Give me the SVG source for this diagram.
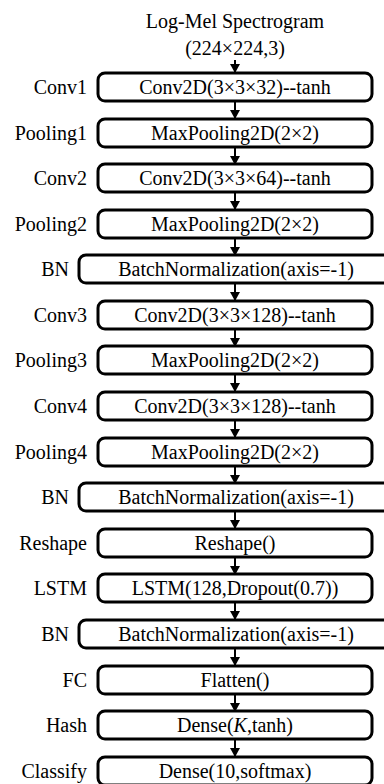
<svg xmlns="http://www.w3.org/2000/svg" width="384" height="784" viewBox="0 0 384 784">
<style>
text{font-family:"Liberation Serif","Times New Roman",serif;font-size:20px;fill:#000}
.c{text-anchor:middle}
.l{text-anchor:end}
.box{fill:#fff;stroke:#000;stroke-width:3}
.arr{stroke:#000;stroke-width:2;fill:none;marker-end:url(#ah)}
</style>
<defs>
<marker id="ah" markerWidth="9" markerHeight="10" refX="8" refY="5" orient="auto" markerUnits="userSpaceOnUse">
<path d="M0,0 L9,5 L0,10 Z" fill="#000"/>
</marker>
</defs>
<rect width="384" height="784" fill="#fff"/>
<g id="input">
<text class="c" x="235" y="28">Log-Mel Spectrogram</text>
<text class="c" x="235" y="55">(224×224,3)</text>
</g>
<g id="connectors">
<line class="arr" x1="235" y1="60" x2="235" y2="72"/>
<line class="arr" x1="235" y1="101" x2="235" y2="118"/>
<line class="arr" x1="235" y1="147" x2="235" y2="164"/>
<line class="arr" x1="235" y1="192" x2="235" y2="209"/>
<line class="arr" x1="235" y1="238" x2="235" y2="255"/>
<line class="arr" x1="235" y1="283" x2="235" y2="300"/>
<line class="arr" x1="235" y1="329" x2="235" y2="346"/>
<line class="arr" x1="235" y1="374" x2="235" y2="391"/>
<line class="arr" x1="235" y1="420" x2="235" y2="437"/>
<line class="arr" x1="235" y1="466" x2="235" y2="483"/>
<line class="arr" x1="235" y1="511" x2="235" y2="528"/>
<line class="arr" x1="235" y1="557" x2="235" y2="574"/>
<line class="arr" x1="235" y1="602" x2="235" y2="619"/>
<line class="arr" x1="235" y1="648" x2="235" y2="665"/>
<line class="arr" x1="235" y1="694" x2="235" y2="711"/>
<line class="arr" x1="235" y1="739" x2="235" y2="756"/>
</g>
<g id="conv1"><rect class="box" x="98" y="73" width="274" height="28" rx="7"/><text class="l" x="87" y="94">Conv1</text><text class="c" x="235" y="94">Conv2D(3×3×32)--tanh</text></g>
<g id="pooling1"><rect class="box" x="98" y="119" width="274" height="28" rx="7"/><text class="l" x="87" y="140">Pooling1</text><text class="c" x="235" y="140">MaxPooling2D(2×2)</text></g>
<g id="conv2"><rect class="box" x="98" y="164" width="274" height="28" rx="7"/><text class="l" x="87" y="185">Conv2</text><text class="c" x="235" y="185">Conv2D(3×3×64)--tanh</text></g>
<g id="pooling2"><rect class="box" x="98" y="210" width="274" height="28" rx="7"/><text class="l" x="87" y="231">Pooling2</text><text class="c" x="235" y="231">MaxPooling2D(2×2)</text></g>
<g id="bn1"><rect class="box" x="79" y="255" width="320" height="28" rx="7"/><text class="l" x="69" y="276">BN</text><text class="c" x="236" y="276">BatchNormalization(axis=-1)</text></g>
<g id="conv3"><rect class="box" x="98" y="301" width="274" height="28" rx="7"/><text class="l" x="87" y="322">Conv3</text><text class="c" x="235" y="322">Conv2D(3×3×128)--tanh</text></g>
<g id="pooling3"><rect class="box" x="98" y="346" width="274" height="28" rx="7"/><text class="l" x="87" y="367">Pooling3</text><text class="c" x="235" y="367">MaxPooling2D(2×2)</text></g>
<g id="conv4"><rect class="box" x="98" y="392" width="274" height="28" rx="7"/><text class="l" x="87" y="413">Conv4</text><text class="c" x="235" y="413">Conv2D(3×3×128)--tanh</text></g>
<g id="pooling4"><rect class="box" x="98" y="438" width="274" height="28" rx="7"/><text class="l" x="87" y="459">Pooling4</text><text class="c" x="235" y="459">MaxPooling2D(2×2)</text></g>
<g id="bn2"><rect class="box" x="79" y="483" width="320" height="28" rx="7"/><text class="l" x="69" y="504">BN</text><text class="c" x="236" y="504">BatchNormalization(axis=-1)</text></g>
<g id="reshape"><rect class="box" x="98" y="529" width="274" height="28" rx="7"/><text class="l" x="87" y="550">Reshape</text><text class="c" x="235" y="550">Reshape()</text></g>
<g id="lstm"><rect class="box" x="98" y="574" width="274" height="28" rx="7"/><text class="l" x="87" y="595">LSTM</text><text class="c" x="235" y="595">LSTM(128,Dropout(0.7))</text></g>
<g id="bn3"><rect class="box" x="79" y="620" width="320" height="28" rx="7"/><text class="l" x="69" y="641">BN</text><text class="c" x="236" y="641">BatchNormalization(axis=-1)</text></g>
<g id="fc"><rect class="box" x="98" y="666" width="274" height="28" rx="7"/><text class="l" x="87" y="687">FC</text><text class="c" x="235" y="687">Flatten()</text></g>
<g id="hash"><rect class="box" x="98" y="711" width="274" height="28" rx="7"/><text class="l" x="87" y="732">Hash</text><text class="c" x="235" y="732">Dense(<tspan font-style="italic">K</tspan>,tanh)</text></g>
<g id="classify"><rect class="box" x="98" y="757" width="274" height="28" rx="7"/><text class="l" x="87" y="778">Classify</text><text class="c" x="235" y="778">Dense(10,softmax)</text></g>
</svg>
